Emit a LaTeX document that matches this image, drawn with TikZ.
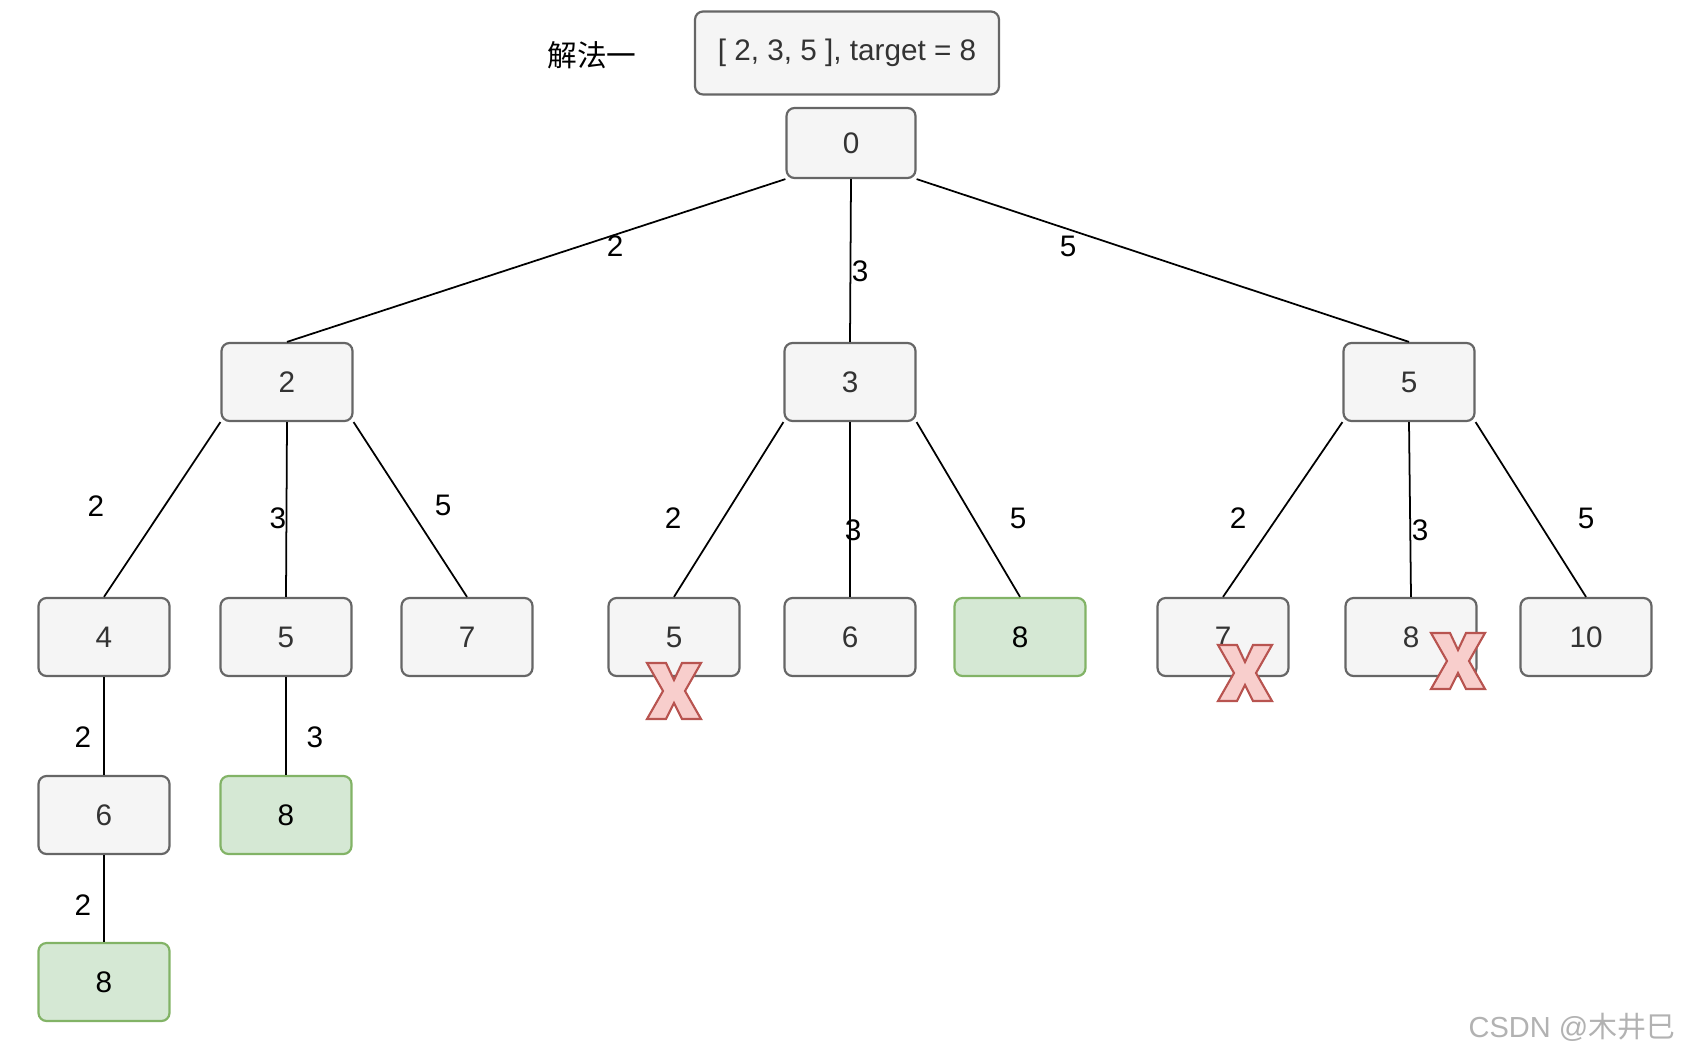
\documentclass[tikz,border=0pt]{standalone}
\usepackage{fontspec}
\setmainfont{Liberation Sans}
\newfontfamily\cjk{Noto Sans CJK SC}
\usetikzlibrary{calc}

\definecolor{boxfill}{HTML}{F5F5F5}
\definecolor{boxline}{HTML}{666666}
\definecolor{okfill}{HTML}{D5E8D4}
\definecolor{okline}{HTML}{82B366}
\definecolor{badfill}{HTML}{F8CECC}
\definecolor{badline}{HTML}{B85450}
\definecolor{txt}{HTML}{333333}

\tikzset{
	box/.style={draw=boxline, fill=boxfill, text=txt, line width=1.25pt, rounded corners=0.16cm,
		minimum width=2.62cm, minimum height=1.56cm, inner sep=0pt, font=\fontsize{16.9}{20}\selectfont},
	okbox/.style={box, draw=okline, fill=okfill, text=black},
	lbl/.style={inner sep=0pt, font=\fontsize{16.9}{20}\selectfont},
	edge/.style={line width=1pt},
	cross/.style={draw=badline, fill=badfill, line width=1.2pt, line join=miter}
}
\def\redcross(#1,#2){\draw[cross, shift={(#1,#2)}] (-27,-28) -- (-8,-28) -- (0,-11) -- (8,-28) -- (27,-28) -- (11,0) -- (27,28) -- (8,28) -- (0,12) -- (-8,28) -- (-27,28) -- (-11,0) -- cycle;}

\begin{document}
\begin{tikzpicture}[x=0.02cm, y=-0.02cm]
			%%%%% START %%%%%
			\useasboundingbox (0,0) rectangle (1686,1057);
			
			\node[lbl] (algo) at (592,55) {\cjk 解法一};
			\node[box, minimum width=6.08cm, minimum height=1.66cm] (title) at (847,53) {[ 2, 3, 5 ], target = 8};
			
			\node[box, minimum width=2.58cm, minimum height=1.4cm] (p0) at (851,143) {0};
			
			\node[box] (p2) at (287,382) {2};
			\node[box] (p3) at (850,382) {3};
			\node[box] (p5) at (1409,382) {5};
			
			\node[box] (p22) at (104,637) {4};
			\node[box] (p23) at (286,637) {5};
			\node[box] (p25) at (467,637) {7};
			\node[box] (p32) at (674,637) {5};
			\node[box] (p33) at (850,637) {6};
			\node[okbox] (p35) at (1020,637) {8};
			\node[box] (p52) at (1223,637) {7};
			\node[box] (p53) at (1411,637) {8};
			\node[box] (p55) at (1586,637) {10};
			
			\node[box] (p222) at (104,815) {6};
			\node[okbox] (p233) at (286,815) {8};
			\node[okbox] (p2222) at (104,982) {8};
			
			\draw[edge] (p0.south west) -- (p2.north);
			\draw[edge] (p0.south) -- (p3.north);
			\draw[edge] (p0.south east) -- (p5.north);
			
			\draw[edge] (p2.south west) -- (p22.north);
			\draw[edge] (p2.south) -- (p23.north);
			\draw[edge] (p2.south east) -- (p25.north);
			\draw[edge] (p3.south west) -- (p32.north);
			\draw[edge] (p3.south) -- (p33.north);
			\draw[edge] (p3.south east) -- (p35.north);
			\draw[edge] (p5.south west) -- (p52.north);
			\draw[edge] (p5.south) -- (p53.north);
			\draw[edge] (p5.south east) -- (p55.north);
			
			\draw[edge] (p22.south) -- (p222.north);
			\draw[edge] (p23.south) -- (p233.north);
			\draw[edge] (p222.south) -- (p2222.north);
			
			\node[lbl] (l2) at (615,246) {2};
			\node[lbl] (l3) at (860,271) {3};
			\node[lbl] (l5) at (1068,246) {5};
			\node[lbl] (l22) at (96,506) {2};
			\node[lbl] (l23) at (278,518) {3};
			\node[lbl] (l25) at (443,505) {5};
			\node[lbl] (l32) at (673,518) {2};
			\node[lbl] (l33) at (853,530) {3};
			\node[lbl] (l35) at (1018,518) {5};
			\node[lbl] (l52) at (1238,518) {2};
			\node[lbl] (l53) at (1420,530) {3};
			\node[lbl] (l55) at (1586,518) {5};
			\node[lbl] (l222) at (83,737) {2};
			\node[lbl] (l233) at (315,737) {3};
			\node[lbl] (l2222) at (83,905) {2};
			
			\redcross(674,691)
			\redcross(1245,673)
			\redcross(1458,661)
			
			\node[lbl, text=black!30, font=\fontsize{16.5}{19}\selectfont] (mark) at (1572,1027) {CSDN @{\cjk 木井巳}};
			%%%%% END %%%%%
\end{tikzpicture}
\end{document}
